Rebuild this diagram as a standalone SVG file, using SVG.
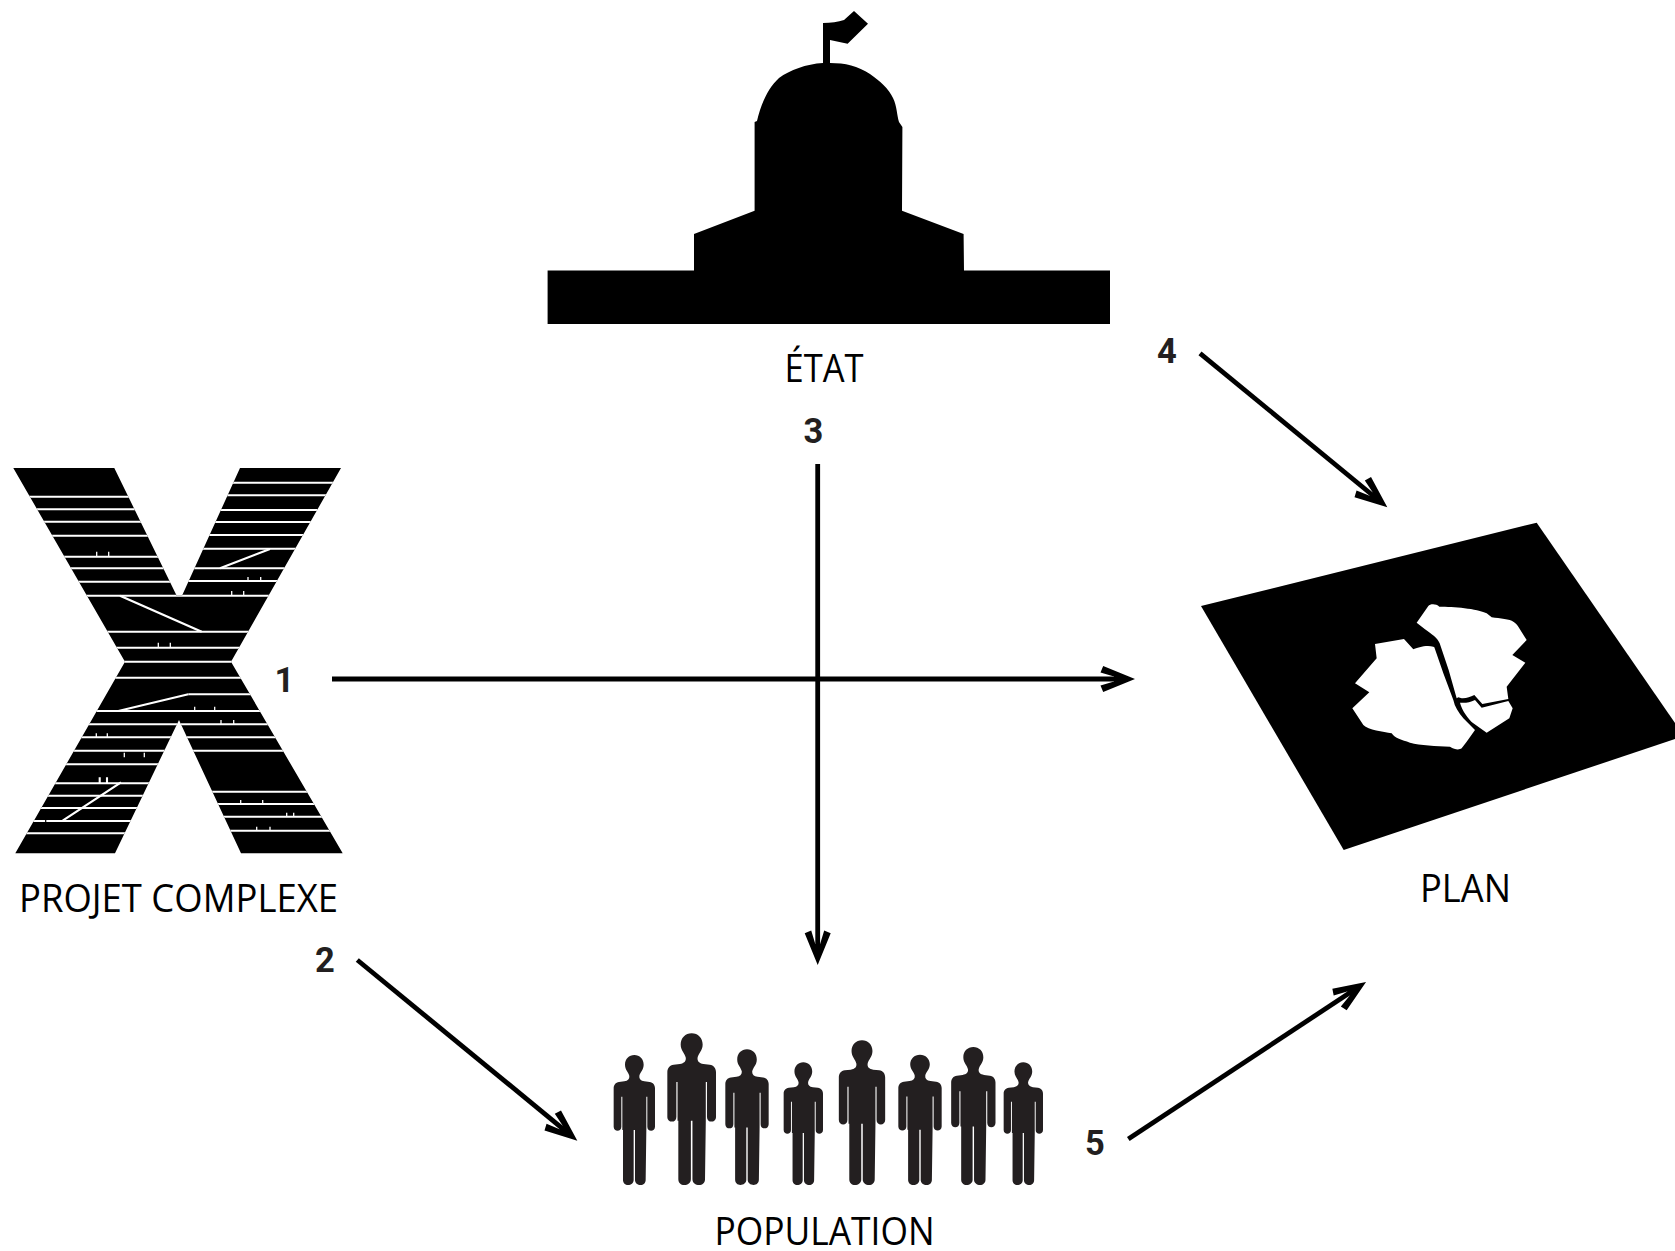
<svg xmlns="http://www.w3.org/2000/svg" width="1675" height="1251" viewBox="0 0 1675 1251">
<style>
.lbl{font-family:"Open Sans","Noto Sans",sans-serif;font-size:37.500px;fill:#000}
.num{font-family:Roboto,"Liberation Sans",sans-serif;font-weight:700;font-size:34.500px;fill:#231f20;text-anchor:middle}
.cn{fill:none;stroke:#000;stroke-width:4.800}
.w{stroke:#fff;stroke-width:2.100;fill:none}
.d{stroke:#fff;stroke-width:2.200;fill:none}
.t{stroke:#fff;stroke-width:1.300;fill:none}
</style>
<defs>
<marker id="ah" markerUnits="userSpaceOnUse" viewBox="-40 -15 45 30" refX="-10" refY="0" markerWidth="45" markerHeight="30" orient="auto">
<path d="M0 0L-31.800 -13L-34.500 -6.500L-21 -2.400V2.400L-34.500 6.500L-31.800 13Z" fill="#000"/>
</marker>
<clipPath id="xclip"><path d="M13.3 468H114.3L176.7 595.7H182L240 468H341L231 661.7L342.7 853.3H241L179 720L115 853.3H15.3L125 661.7Z"/></clipPath>
<path id="person" fill="#231f20" d="M0 0C16 0 28 12 28 29C28 45 17 52 15 63C14 72 19 77 30 79L46 81C56 82 62 90 62 100V215C62 223 56 227 50.500 227C44 227 39 223 39 215V125H36V225L34 375C34 384 27 390 19 390C10 390 2 384 2 375V225H-2V375C-2 384 -10 390 -19 390C-27 390 -34 384 -34 375V225L-36 225V125H-39V215C-39 223 -44 227 -50.500 227C-56 227 -62 223 -62 215V100C-62 90 -56 82 -46 81L-30 79C-19 77 -14 72 -15 63C-17 52 -28 45 -28 29C-28 12 -16 0 0 0Z"/>
</defs>

<g id="etat">
<path fill="#000" d="M823 23Q835 23 844 20L854 11L868 23.700L847.600 43.700L830 40V63C845 63 858 66 870 74C880 81 889 89 893 98C897 106 897 116 899 122L902.400 127L902 210.700L963.600 234L964 270.500H1110V324H547.600V270.500H694V234L754.600 210.700V122L757 121C761 104 768 88 779 78C790 70 806 64 823 63Z"/>
<text class="lbl" x="784.500" y="382.300" textLength="79" lengthAdjust="spacingAndGlyphs">ÉTAT</text>
</g>

<g id="projet-complexe">
<path fill="#000" d="M13.3 468H114.3L176.7 595.7H182L240 468H341L231 661.7L342.7 853.3H241L179 720L115 853.3H15.300L125 661.700Z"/>
<g clip-path="url(#xclip)">
<path class="w" d="M0 496.700H178M0 509.300H178M0 521.700H178M0 535.700H178M0 556.700H178M0 568.300H178M0 581.700H178
M180 482.700H345M180 495.300H345M180 510H345M180 522H345M180 535H345M180 548.700H345M180 568.300H345M180 581H345
M0 595.700H345M0 631.700H345M0 647.700H345M0 661.700H345M0 677.700H345M188.300 694.300H345M0 711H345M0 724.300H345M0 737.300H345M0 750.700H345
M0 764.300H178M0 783.300H178M0 795.700H178M0 808H178M0 821H178M0 833.300H178
M180 791.700H345M180 804H345M180 816.700H345M180 830.700H345"/>
<path class="d" d="M120 595.700L201.700 631.700M220 568.300L270 549M118.300 711L188.300 694.300M62.700 820.700L121 782.300"/>
<path class="t" d="M96.700 551.700V556.700M108.700 551.700V556.700M248 577V581M260.700 577V581M231.700 591V595.700M243.700 591V595.700M158.300 642.700V647.700M170.300 642.700V647.700M194.700 706.700V711M214.700 706.700V711M221 720V724.300M233.700 720V724.300M96.300 733.300V737.300M107.300 733.300V737.300M124.300 752.700V757.300M144.300 752.700V757.300M240.700 800V804M262.700 800V804M286.700 812.700V816.700M293.700 812.700V816.700M256.700 826.700V830.700M270 826.700V830.700"/>
<path class="w" d="M99.700 777.300V783.300M107 777.300V783.300"/>
<path d="M45.700 820V822" stroke="#000" stroke-width="1.200"/>
</g>
<text class="lbl" x="19" y="911.700" textLength="319" lengthAdjust="spacingAndGlyphs">PROJET COMPLEXE</text>
</g>

<g id="plan">
<path fill="#000" d="M1201 606L1536.700 522.700L1675 723V739L1343.700 850Z"/>
<g transform="translate(1180 510) scale(.33333)" fill="#fff">
<path d="M585 402L672 387L700 418C712 412 740 404 760 410L763 412L790 490L820 570C824 590 836 608 850 625L885 660L860 695L845 715C838 720 825 720 810 710C770 708 720 706 690 698C665 690 645 685 635 670C610 665 565 660 550 645L517 595L568 547L525 520L590 445Z"/>
<path d="M710 338L745 288C750 281 768 280 778 290C820 290 890 295 920 310L935 322C960 325 990 328 1000 335C1008 340 1012 345 1015 350L1040 390L997 435L1036 458L980 530L985 567L907 582L883 555C870 560 860 566 845 565L835 562L830 565L806 480L779 400C773 385 755 372 735 358Z"/>
<path d="M840 578C855 580 870 577 885 570L905 593L985 573L998 595L988 625L920 668L880 640C865 628 845 600 840 578Z"/>
</g>
<text class="lbl" x="1420" y="901.500" textLength="91" lengthAdjust="spacingAndGlyphs">PLAN</text>
</g>

<g id="population">
<use href="#person" transform="translate(634.330 1055) scale(.33333 .33333)"/>
<use href="#person" transform="translate(691.670 1033.330) scale(.3925 .3889)"/>
<use href="#person" transform="translate(747 1049.330) scale(.3495 .3479)"/>
<use href="#person" transform="translate(803.330 1062.330) scale(.3172 .3145)"/>
<use href="#person" transform="translate(862 1040.330) scale(.3737 .3709)"/>
<use href="#person" transform="translate(920 1054.670) scale(.3495 .3342)"/>
<use href="#person" transform="translate(973.330 1047) scale(.3575 .3538)"/>
<use href="#person" transform="translate(1023.330 1062.330) scale(.3172 .3145)"/>
<text class="lbl" x="714.500" y="1245" textLength="220" lengthAdjust="spacingAndGlyphs">POPULATION</text>
</g>

<g id="connectors">
<path class="cn" marker-end="url(#ah)" d="M332 679H1125"/>
<path class="cn" marker-end="url(#ah)" d="M817.700 464V955"/>
<path class="cn" marker-end="url(#ah)" d="M1200 353.300L1379.600 501"/>
<path class="cn" marker-end="url(#ah)" d="M1128.300 1139L1357.700 987.500"/>
<path class="cn" marker-end="url(#ah)" d="M357.300 960L569.600 1134.300"/>
</g>

<g id="numbers">
<text class="num" x="284.500" y="691.700">1</text>
<text class="num" x="325" y="972">2</text>
<text class="num" x="813.300" y="443">3</text>
<text class="num" x="1167" y="363">4</text>
<text class="num" x="1095" y="1155">5</text>
</g>
</svg>
